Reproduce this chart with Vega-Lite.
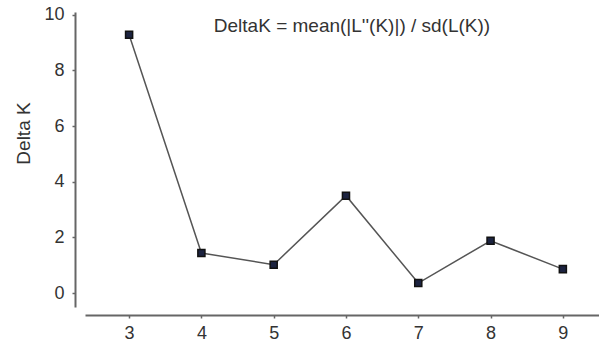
{
  "$schema": "https://vega.github.io/schema/vega-lite/v6.json",
  "autosize": "none",
  "padding": {"left": 85, "top": 12, "right": 0, "bottom": 42},
  "width": 514,
  "height": 295,
  "background": "white",
  "title": {
    "text": "DeltaK = mean(|L''(K)|) / sd(L(K))",
    "font": "Liberation Sans",
    "fontSize": 19,
    "fontWeight": "normal",
    "color": "#333333",
    "anchor": "middle",
    "frame": "group",
    "orient": "top",
    "baseline": "alphabetic",
    "offset": -45,
    "dx": 10
  },
  "data": {
    "values": [
      {"K": 3, "deltaK": 9.28},
      {"K": 4, "deltaK": 1.44},
      {"K": 5, "deltaK": 1.02},
      {"K": 6, "deltaK": 3.5},
      {"K": 7, "deltaK": 0.36},
      {"K": 8, "deltaK": 1.88},
      {"K": 9, "deltaK": 0.86}
    ]
  },
  "config": {
    "view": {"stroke": null},
    "axis": {
      "labelFont": "Liberation Sans",
      "titleFont": "Liberation Sans",
      "labelFontSize": 18,
      "titleFontSize": 19,
      "titleFontWeight": "normal",
      "labelColor": "#333333",
      "titleColor": "#333333",
      "domainColor": "#666666",
      "domainWidth": 2,
      "tickColor": "#666666",
      "tickWidth": 1.5,
      "grid": false
    }
  },
  "encoding": {
    "x": {
      "field": "K",
      "type": "quantitative",
      "scale": {"domain": [2.39, 9.5], "nice": false, "zero": false},
      "axis": {"values": [3, 4, 5, 6, 7, 8, 9], "title": null, "offset": 8, "tickSize": 3, "labelPadding": 6, "labelFlush": false}
    },
    "y": {
      "field": "deltaK",
      "type": "quantitative",
      "scale": {"domain": [-0.5, 10.1], "nice": false, "zero": false},
      "axis": {"values": [0, 2, 4, 6, 8, 10], "title": "Delta K", "offset": 10, "tickSize": 3, "labelPadding": 8, "labelFlush": false, "titleAnchor": "middle", "titleX": -42, "titleY": 121}
    }
  },
  "layer": [
    {"mark": {"type": "line", "color": "#555555", "strokeWidth": 1.5}},
    {"mark": {"type": "point", "shape": "square", "filled": true, "size": 50, "fill": "#1c2340", "stroke": "#111111", "strokeWidth": 1.5, "opacity": 1}}
  ]
}
